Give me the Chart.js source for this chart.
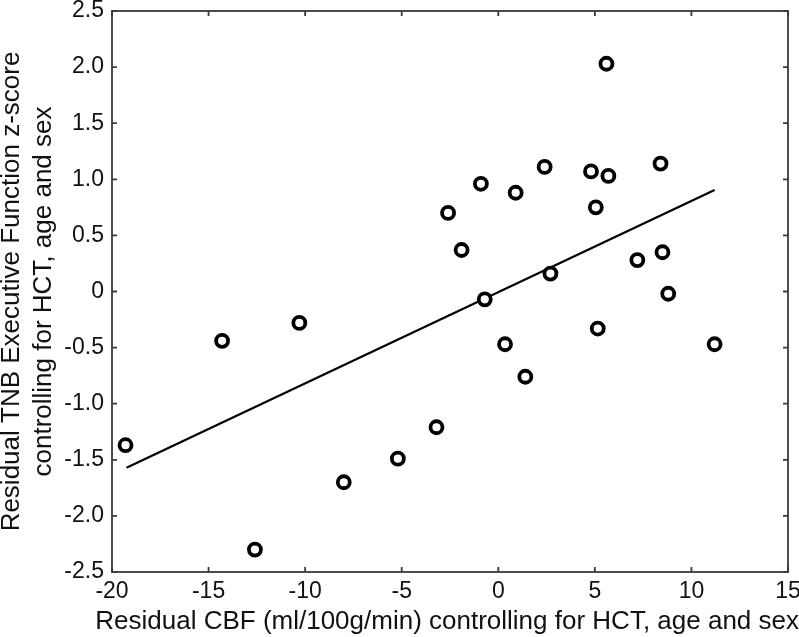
<!DOCTYPE html>
<html>
<head>
<meta charset="utf-8">
<script src="https://cdn.jsdelivr.net/npm/chart.js@4.4.1/dist/chart.umd.min.js"></script>
<style>
  html, body { margin: 0; padding: 0; background: #fff; }
  #wrap { width: 799px; height: 637px; }
</style>
</head>
<body>
<div id="wrap"><canvas id="myChart"></canvas></div>
<script>
// Data
var cbfX = [-19.3, -14.3, -12.6, -10.3, -8.0, -5.2, -3.2, -2.6, -1.9, -0.9, -0.7, 0.35, 0.9, 1.4, 2.4, 2.7, 4.8, 5.05, 5.15, 5.6, 5.7, 7.2, 8.4, 8.5, 8.8, 11.2];
var tnbY = [-1.37, -0.44, -2.30, -0.28, -1.70, -1.49, -1.21, 0.70, 0.37, 0.96, -0.07, -0.47, 0.88, -0.76, 1.11, 0.16, 1.07, 0.75, -0.33, 2.03, 1.03, 0.28, 1.14, 0.35, -0.02, -0.47];
// regression line end points
var fitX = [-19.25, 11.2];
var fitY = [-1.57, 0.905];
// axis ticks
var xTicks = [-20, -15, -10, -5, 0, 5, 10, 15];
var yTicks = [-2.5, -2.0, -1.5, -1.0, -0.5, 0, 0.5, 1.0, 1.5, 2.0, 2.5];

var xTitle = 'Residual CBF (ml/100g/min) controlling for HCT, age and sex';
var yTitle = ['Residual TNB Executive Function z-score', 'controlling for HCT, age and sex'];

var axisColor = '#3a3a3a';
var fontFamily = '"Liberation Sans", Arial, Helvetica, sans-serif';

var points = cbfX.map(function (x, i) { return { x: x, y: tnbY[i] }; });
var fitLine = fitX.map(function (x, i) { return { x: x, y: fitY[i] }; });

// inward tick marks on all four sides plus the box
var frameTicks = {
    id: 'frameTicks',
    afterDatasetsDraw: function (chart) {
        var c = chart.ctx, a = chart.chartArea;
        var xs = chart.scales.x, ys = chart.scales.y;
        var len = 5;
        c.save();
        c.strokeStyle = axisColor;
        c.lineWidth = 1.8;
        c.strokeRect(a.left, a.top, a.right - a.left, a.bottom - a.top);
        c.beginPath();
        xTicks.forEach(function (v) {
            var px = xs.getPixelForValue(v);
            c.moveTo(px, a.bottom); c.lineTo(px, a.bottom - len);
            c.moveTo(px, a.top); c.lineTo(px, a.top + len);
        });
        yTicks.forEach(function (v) {
            var py = ys.getPixelForValue(v);
            c.moveTo(a.left, py); c.lineTo(a.left + len, py);
            c.moveTo(a.right, py); c.lineTo(a.right - len, py);
        });
        c.stroke();
        c.restore();
    }
};

var ctx = document.getElementById('myChart').getContext('2d');

var myChart = new Chart(ctx, {
    type: 'scatter',
    data: {
        datasets: [{
            label: 'Subjects',
            data: points,
            pointStyle: 'circle',
            pointRadius: 6,
            pointHoverRadius: 6,
            pointBorderWidth: 3.8,
            pointBackgroundColor: '#fff',
            pointBorderColor: '#000'
        }, {
            label: 'Fit',
            data: fitLine,
            showLine: true,
            borderColor: '#000',
            borderWidth: 2.2,
            pointRadius: 0,
            fill: false
        }]
    },
    options: {
        responsive: true,
        maintainAspectRatio: false,
        animation: false,
        layout: { padding: { top: 11, right: 0, left: 0, bottom: 0 } },
        plugins: {
            legend: { display: false },
            tooltip: { enabled: false },
            // x axis title, full width so it can run past the plot box like the original
            title: {
                display: true,
                position: 'bottom',
                align: 'end',
                text: xTitle,
                color: '#111',
                font: { family: fontFamily, size: 26, weight: 'normal', lineHeight: 1.2 },
                padding: { top: 0, bottom: 0 }
            }
        },
        scales: {
            x: {
                type: 'linear',
                min: -20,
                max: 15,
                afterBuildTicks: function (s) { s.ticks = xTicks.map(function (v) { return { value: v }; }); },
                afterFit: function (s) { s.height = 33.8; s.paddingRight = 11; s.paddingLeft = 0; },
                grid: { display: false, drawTicks: false },
                border: { display: false },
                ticks: {
                    padding: 6,
                    color: '#111',
                    font: { family: fontFamily, size: 23 },
                    maxRotation: 0
                }
            },
            y: {
                type: 'linear',
                min: -2.5,
                max: 2.5,
                afterBuildTicks: function (s) { s.ticks = yTicks.map(function (v) { return { value: v }; }); },
                afterFit: function (s) { s.width = 112; s.paddingTop = 0; s.paddingBottom = 0; },
                grid: { display: false, drawTicks: false },
                border: { display: false },
                ticks: {
                    padding: 8,
                    color: '#111',
                    font: { family: fontFamily, size: 23 },
                    callback: function (v) { return v === 0 ? '0' : v.toFixed(1); }
                },
                title: {
                    display: true,
                    text: yTitle,
                    color: '#111',
                    font: { family: fontFamily, size: 26, lineHeight: 1.23 },
                    padding: { top: -4, bottom: 0 }
                }
            }
        }
    },
    plugins: [frameTicks]
});
</script>
</body>
</html>
